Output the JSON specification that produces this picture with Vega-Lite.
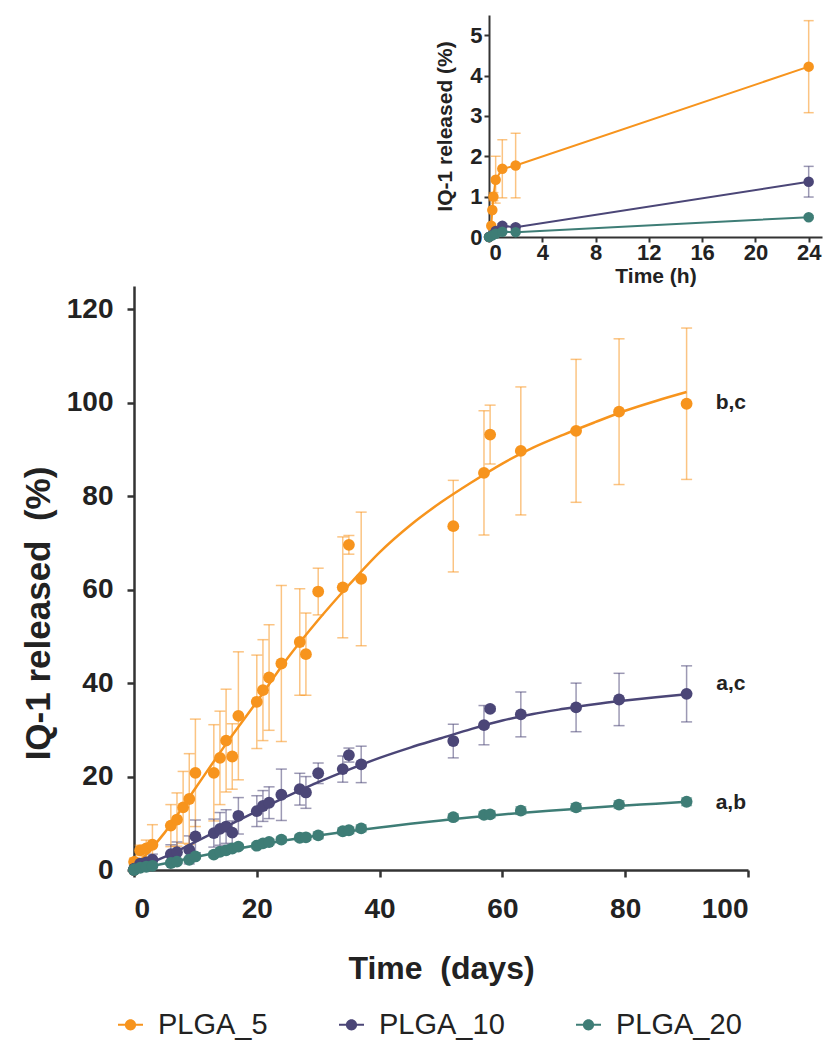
{
  "$schema": "https://vega.github.io/schema/vega-lite/v6.json",
  "background": "white",
  "padding": {"left": 21, "top": 15, "right": 5, "bottom": 5},
  "config": {
    "view": {"stroke": null},
    "font": "Liberation Sans",
    "axis": {"grid": false, "labelFont": "Liberation Sans", "titleFont": "Liberation Sans", "labelColor": "#222222", "titleColor": "#222222", "domainColor": "#333333", "tickColor": "#333333", "labelFontWeight": "bold", "titleFontWeight": "bold"},
    "legend": {
      "orient": "none", "legendX": -18, "legendY": 724, "direction": "horizontal", "columns": 3,
      "symbolType": "M-1,-0.08H1V0.08H-1Z M-0.45,0A0.45,0.45 0 1,1 0.45,0A0.45,0.45 0 1,1 -0.45,0Z",
      "symbolSize": 625, "symbolStrokeWidth": 0, "symbolOpacity": 1,
      "labelFont": "Liberation Sans", "labelFontSize": 29, "labelColor": "#222222", "labelOffset": 13, "columnPadding": 69
    }
  },
  "datasets": {
    "main": [
      {"g": "PLGA_5", "t": 0, "v": 0, "e": 0},
      {"g": "PLGA_5", "t": 0.04, "v": 1.7, "e": 0.6},
      {"g": "PLGA_5", "t": 0.08, "v": 1.75, "e": 0.8},
      {"g": "PLGA_5", "t": 1, "v": 4.2, "e": 1.1},
      {"g": "PLGA_5", "t": 2, "v": 4.6, "e": 1.8},
      {"g": "PLGA_5", "t": 3, "v": 5.4, "e": 4.3},
      {"g": "PLGA_5", "t": 6, "v": 9.5, "e": 4.5},
      {"g": "PLGA_5", "t": 7, "v": 10.8, "e": 5.7},
      {"g": "PLGA_5", "t": 8, "v": 13.4, "e": 7.7},
      {"g": "PLGA_5", "t": 9, "v": 15.2, "e": 9.7},
      {"g": "PLGA_5", "t": 10, "v": 20.8, "e": 11.5},
      {"g": "PLGA_5", "t": 13, "v": 20.8, "e": 10.3},
      {"g": "PLGA_5", "t": 14, "v": 24, "e": 10},
      {"g": "PLGA_5", "t": 15, "v": 27.7, "e": 11},
      {"g": "PLGA_5", "t": 16, "v": 24.3, "e": 7},
      {"g": "PLGA_5", "t": 17, "v": 33, "e": 13.7},
      {"g": "PLGA_5", "t": 20, "v": 36, "e": 10},
      {"g": "PLGA_5", "t": 21, "v": 38.5, "e": 10.8},
      {"g": "PLGA_5", "t": 22, "v": 41.2, "e": 11.3},
      {"g": "PLGA_5", "t": 24, "v": 44.2, "e": 16.7},
      {"g": "PLGA_5", "t": 27, "v": 48.8, "e": 11.4},
      {"g": "PLGA_5", "t": 28, "v": 46.2, "e": 8.8},
      {"g": "PLGA_5", "t": 30, "v": 59.6, "e": 5},
      {"g": "PLGA_5", "t": 34, "v": 60.5, "e": 10.8},
      {"g": "PLGA_5", "t": 35, "v": 69.6, "e": 2},
      {"g": "PLGA_5", "t": 37, "v": 62.3, "e": 14.3},
      {"g": "PLGA_5", "t": 52, "v": 73.6, "e": 9.8},
      {"g": "PLGA_5", "t": 57, "v": 85, "e": 13.3},
      {"g": "PLGA_5", "t": 58, "v": 93.2, "e": 6.3},
      {"g": "PLGA_5", "t": 63, "v": 89.7, "e": 13.7},
      {"g": "PLGA_5", "t": 72, "v": 94, "e": 15.3},
      {"g": "PLGA_5", "t": 79, "v": 98.1, "e": 15.6},
      {"g": "PLGA_5", "t": 90, "v": 99.8, "e": 16.2},
      {"g": "PLGA_10", "t": 0, "v": 0, "e": 0},
      {"g": "PLGA_10", "t": 0.04, "v": 0.28, "e": 0.05},
      {"g": "PLGA_10", "t": 0.08, "v": 0.23, "e": 0.05},
      {"g": "PLGA_10", "t": 1, "v": 1.37, "e": 0.38},
      {"g": "PLGA_10", "t": 2, "v": 1.6, "e": 0.6},
      {"g": "PLGA_10", "t": 3, "v": 2.2, "e": 1.2},
      {"g": "PLGA_10", "t": 6, "v": 3.4, "e": 2},
      {"g": "PLGA_10", "t": 7, "v": 3.8, "e": 2.2},
      {"g": "PLGA_10", "t": 9, "v": 4.3, "e": 3},
      {"g": "PLGA_10", "t": 10, "v": 7.2, "e": 3.5},
      {"g": "PLGA_10", "t": 13, "v": 7.9, "e": 3},
      {"g": "PLGA_10", "t": 14, "v": 8.8, "e": 3.5},
      {"g": "PLGA_10", "t": 15, "v": 9.3, "e": 3.6},
      {"g": "PLGA_10", "t": 16, "v": 8, "e": 2.5},
      {"g": "PLGA_10", "t": 17, "v": 11.6, "e": 3.9},
      {"g": "PLGA_10", "t": 20, "v": 12.6, "e": 3.3},
      {"g": "PLGA_10", "t": 21, "v": 13.7, "e": 3.3},
      {"g": "PLGA_10", "t": 22, "v": 14.4, "e": 3.4},
      {"g": "PLGA_10", "t": 24, "v": 16.1, "e": 5.5},
      {"g": "PLGA_10", "t": 27, "v": 17.3, "e": 3.4},
      {"g": "PLGA_10", "t": 28, "v": 16.6, "e": 3.4},
      {"g": "PLGA_10", "t": 30, "v": 20.7, "e": 2.2},
      {"g": "PLGA_10", "t": 34, "v": 21.6, "e": 2.8},
      {"g": "PLGA_10", "t": 35, "v": 24.6, "e": 1.5},
      {"g": "PLGA_10", "t": 37, "v": 22.6, "e": 3.9},
      {"g": "PLGA_10", "t": 52, "v": 27.6, "e": 3.6},
      {"g": "PLGA_10", "t": 57, "v": 31, "e": 4.2},
      {"g": "PLGA_10", "t": 58, "v": 34.5, "e": 0.5},
      {"g": "PLGA_10", "t": 63, "v": 33.3, "e": 4.8},
      {"g": "PLGA_10", "t": 72, "v": 34.8, "e": 5.2},
      {"g": "PLGA_10", "t": 79, "v": 36.5, "e": 5.6},
      {"g": "PLGA_10", "t": 90, "v": 37.7, "e": 6},
      {"g": "PLGA_20", "t": 0, "v": 0, "e": 0},
      {"g": "PLGA_20", "t": 0.04, "v": 0.14, "e": 0},
      {"g": "PLGA_20", "t": 0.08, "v": 0.13, "e": 0},
      {"g": "PLGA_20", "t": 1, "v": 0.49, "e": 0.05},
      {"g": "PLGA_20", "t": 2, "v": 0.7, "e": 0.2},
      {"g": "PLGA_20", "t": 3, "v": 0.9, "e": 0.3},
      {"g": "PLGA_20", "t": 6, "v": 1.5, "e": 0.4},
      {"g": "PLGA_20", "t": 7, "v": 1.8, "e": 0.4},
      {"g": "PLGA_20", "t": 9, "v": 2.2, "e": 0.5},
      {"g": "PLGA_20", "t": 10, "v": 2.9, "e": 0.5},
      {"g": "PLGA_20", "t": 13, "v": 3.3, "e": 0.5},
      {"g": "PLGA_20", "t": 14, "v": 3.9, "e": 0.5},
      {"g": "PLGA_20", "t": 15, "v": 4.2, "e": 0.5},
      {"g": "PLGA_20", "t": 16, "v": 4.6, "e": 0.5},
      {"g": "PLGA_20", "t": 17, "v": 5, "e": 0.5},
      {"g": "PLGA_20", "t": 20, "v": 5.2, "e": 0.6},
      {"g": "PLGA_20", "t": 21, "v": 5.7, "e": 0.6},
      {"g": "PLGA_20", "t": 22, "v": 6, "e": 0.6},
      {"g": "PLGA_20", "t": 24, "v": 6.5, "e": 0.6},
      {"g": "PLGA_20", "t": 27, "v": 6.9, "e": 0.6},
      {"g": "PLGA_20", "t": 28, "v": 7, "e": 0.6},
      {"g": "PLGA_20", "t": 30, "v": 7.4, "e": 0.7},
      {"g": "PLGA_20", "t": 34, "v": 8.3, "e": 0.7},
      {"g": "PLGA_20", "t": 35, "v": 8.5, "e": 0.7},
      {"g": "PLGA_20", "t": 37, "v": 8.9, "e": 0.7},
      {"g": "PLGA_20", "t": 52, "v": 11.3, "e": 0.7},
      {"g": "PLGA_20", "t": 57, "v": 11.8, "e": 0.7},
      {"g": "PLGA_20", "t": 58, "v": 11.9, "e": 0.7},
      {"g": "PLGA_20", "t": 63, "v": 12.7, "e": 0.8},
      {"g": "PLGA_20", "t": 72, "v": 13.4, "e": 0.8},
      {"g": "PLGA_20", "t": 79, "v": 14, "e": 0.8},
      {"g": "PLGA_20", "t": 90, "v": 14.6, "e": 0.8}
    ],
    "fit": [
      {"g": "PLGA_5", "t": 0, "v": 0.5}, {"g": "PLGA_5", "t": 5, "v": 8}, {"g": "PLGA_5", "t": 10, "v": 17.5},
      {"g": "PLGA_5", "t": 15, "v": 27}, {"g": "PLGA_5", "t": 20, "v": 36}, {"g": "PLGA_5", "t": 25, "v": 45.3},
      {"g": "PLGA_5", "t": 30, "v": 53.5}, {"g": "PLGA_5", "t": 35, "v": 61}, {"g": "PLGA_5", "t": 40, "v": 68},
      {"g": "PLGA_5", "t": 45, "v": 73.8}, {"g": "PLGA_5", "t": 50, "v": 78.7}, {"g": "PLGA_5", "t": 55, "v": 83},
      {"g": "PLGA_5", "t": 60, "v": 87}, {"g": "PLGA_5", "t": 65, "v": 90.4}, {"g": "PLGA_5", "t": 70, "v": 93.2},
      {"g": "PLGA_5", "t": 75, "v": 95.8}, {"g": "PLGA_5", "t": 80, "v": 98.3}, {"g": "PLGA_5", "t": 85, "v": 100.4},
      {"g": "PLGA_5", "t": 90, "v": 102.3},
      {"g": "PLGA_10", "t": 0, "v": 0.2}, {"g": "PLGA_10", "t": 5, "v": 2.8}, {"g": "PLGA_10", "t": 10, "v": 6},
      {"g": "PLGA_10", "t": 15, "v": 9.3}, {"g": "PLGA_10", "t": 20, "v": 12.6}, {"g": "PLGA_10", "t": 25, "v": 15.8},
      {"g": "PLGA_10", "t": 30, "v": 18.8}, {"g": "PLGA_10", "t": 35, "v": 21.5}, {"g": "PLGA_10", "t": 40, "v": 24},
      {"g": "PLGA_10", "t": 45, "v": 26.2}, {"g": "PLGA_10", "t": 50, "v": 28.2}, {"g": "PLGA_10", "t": 55, "v": 30.2},
      {"g": "PLGA_10", "t": 60, "v": 32}, {"g": "PLGA_10", "t": 65, "v": 33.4}, {"g": "PLGA_10", "t": 70, "v": 34.5},
      {"g": "PLGA_10", "t": 75, "v": 35.5}, {"g": "PLGA_10", "t": 80, "v": 36.3}, {"g": "PLGA_10", "t": 85, "v": 37},
      {"g": "PLGA_10", "t": 90, "v": 37.6},
      {"g": "PLGA_20", "t": 0, "v": 0.1}, {"g": "PLGA_20", "t": 5, "v": 1.4}, {"g": "PLGA_20", "t": 10, "v": 2.8},
      {"g": "PLGA_20", "t": 15, "v": 4.1}, {"g": "PLGA_20", "t": 20, "v": 5.3}, {"g": "PLGA_20", "t": 25, "v": 6.4},
      {"g": "PLGA_20", "t": 30, "v": 7.4}, {"g": "PLGA_20", "t": 35, "v": 8.3}, {"g": "PLGA_20", "t": 40, "v": 9.1},
      {"g": "PLGA_20", "t": 45, "v": 9.9}, {"g": "PLGA_20", "t": 50, "v": 10.6}, {"g": "PLGA_20", "t": 55, "v": 11.3},
      {"g": "PLGA_20", "t": 60, "v": 11.9}, {"g": "PLGA_20", "t": 65, "v": 12.4}, {"g": "PLGA_20", "t": 70, "v": 12.9},
      {"g": "PLGA_20", "t": 75, "v": 13.4}, {"g": "PLGA_20", "t": 80, "v": 13.8}, {"g": "PLGA_20", "t": 85, "v": 14.2},
      {"g": "PLGA_20", "t": 90, "v": 14.6}
    ],
    "inset": [
      {"g": "PLGA_5", "h": 0, "v": 0, "e": 0},
      {"g": "PLGA_5", "h": 0.17, "v": 0.28, "e": 0},
      {"g": "PLGA_5", "h": 0.25, "v": 0.67, "e": 0},
      {"g": "PLGA_5", "h": 0.33, "v": 1.0, "e": 0.1},
      {"g": "PLGA_5", "h": 0.5, "v": 1.42, "e": 0.58},
      {"g": "PLGA_5", "h": 1, "v": 1.69, "e": 0.72},
      {"g": "PLGA_5", "h": 2, "v": 1.77, "e": 0.8},
      {"g": "PLGA_5", "h": 24, "v": 4.22, "e": 1.14},
      {"g": "PLGA_10", "h": 0, "v": 0, "e": 0},
      {"g": "PLGA_10", "h": 0.25, "v": 0.05, "e": 0},
      {"g": "PLGA_10", "h": 0.5, "v": 0.15, "e": 0},
      {"g": "PLGA_10", "h": 1, "v": 0.28, "e": 0.05},
      {"g": "PLGA_10", "h": 2, "v": 0.24, "e": 0.06},
      {"g": "PLGA_10", "h": 24, "v": 1.37, "e": 0.38},
      {"g": "PLGA_20", "h": 0, "v": 0, "e": 0},
      {"g": "PLGA_20", "h": 0.25, "v": 0.04, "e": 0},
      {"g": "PLGA_20", "h": 0.5, "v": 0.08, "e": 0},
      {"g": "PLGA_20", "h": 1, "v": 0.13, "e": 0},
      {"g": "PLGA_20", "h": 2, "v": 0.12, "e": 0},
      {"g": "PLGA_20", "h": 24, "v": 0.49, "e": 0.04}
    ],
    "labels": [
      {"t": 97.2, "v": 100, "txt": "b,c"},
      {"t": 97.2, "v": 39.8, "txt": "a,c"},
      {"t": 97.2, "v": 14.3, "txt": "a,b"}
    ]
  },
  "resolve": {"scale": {"color": "independent"}},
  "spacing": 0,
  "vconcat": [
    {
      "spacing": 20,
      "hconcat": [
        {"width": 280, "height": 20, "data": {"values": [{"a": 1}]}, "mark": {"type": "point", "opacity": 0}},
        {
          "width": 333,
          "height": 222,
          "data": {"name": "inset"},
          "encoding": {
            "x": {"field": "h", "type": "quantitative", "scale": {"domain": [0, 25], "nice": false}, "axis": {"values": [0, 4, 8, 12, 16, 20, 24], "title": "Time (h)", "labelFontSize": 22, "titleFontSize": 21, "tickSize": 5, "labelPadding": 0, "titlePadding": 2, "domainWidth": 2, "tickWidth": 2}},
            "y": {"field": "v", "type": "quantitative", "scale": {"domain": [0, 5.5], "nice": false}, "axis": {"values": [0, 1, 2, 3, 4, 5], "title": "IQ-1 released (%)", "labelFontSize": 22, "titleFontSize": 21, "tickSize": 5, "labelPadding": 2, "titlePadding": 14, "domainWidth": 2, "tickWidth": 2}},
            "color": {"field": "g", "type": "nominal", "scale": {"domain": ["PLGA_5", "PLGA_10", "PLGA_20"], "range": ["#F7941D", "#4B4677", "#3E7D76"]}, "legend": null}
          },
          "layer": [
            {
              "transform": [{"filter": "datum.e > 0"}],
              "mark": {"type": "errorbar", "thickness": 1.5, "ticks": {"size": 10, "thickness": 1.5, "opacity": 0.55}, "rule": {"opacity": 0.55}},
              "encoding": {"yError": {"field": "e"}}
            },
            {"mark": {"type": "line", "strokeWidth": 2}},
            {"mark": {"type": "point", "filled": true, "size": 110, "opacity": 1}}
          ]
        }
      ]
    },
    {
      "width": 614,
      "height": 584,
      "encoding": {
        "x": {"field": "t", "type": "quantitative", "scale": {"domain": [0, 100], "nice": false}, "axis": {"values": [0, 20, 40, 60, 80, 100], "title": "Time\u00a0 (days)", "labelFontSize": 28, "titleFontSize": 32, "tickSize": 7, "labelPadding": 18, "titlePadding": 30, "domainWidth": 2.5, "tickWidth": 2.5}},
        "y": {"field": "v", "type": "quantitative", "scale": {"domain": [0, 125], "nice": false}, "axis": {"values": [0, 20, 40, 60, 80, 100, 120], "title": "IQ-1 released\u00a0 (%)", "labelFontSize": 28, "titleFontSize": 35, "tickSize": 7, "labelPadding": 14, "titlePadding": 10, "titleY": 327, "domainWidth": 2.5, "tickWidth": 2.5}}
      },
      "layer": [
        {
          "data": {"name": "main"},
          "transform": [{"filter": "datum.e > 0"}],
          "mark": {"type": "errorbar", "thickness": 1.5, "ticks": {"size": 11, "thickness": 1.5, "opacity": 0.55}, "rule": {"opacity": 0.55}},
          "encoding": {
            "yError": {"field": "e"},
            "color": {"field": "g", "type": "nominal", "title": null, "scale": {"domain": ["PLGA_5", "PLGA_10", "PLGA_20"], "range": ["#F7941D", "#4B4677", "#3E7D76"]}, "legend": {"encode": {"symbols": {"update": {"opacity": {"value": 1}}}}}}
          }
        },
        {
          "data": {"name": "fit"},
          "mark": {"type": "line", "strokeWidth": 2.5, "interpolate": "monotone"},
          "encoding": {
            "color": {"field": "g", "type": "nominal", "title": null, "scale": {"domain": ["PLGA_5", "PLGA_10", "PLGA_20"], "range": ["#F7941D", "#4B4677", "#3E7D76"]}, "legend": {"encode": {"symbols": {"update": {"opacity": {"value": 1}}}}}}
          }
        },
        {
          "data": {"name": "main"},
          "mark": {"type": "point", "filled": true, "size": 140, "opacity": 1},
          "encoding": {
            "color": {"field": "g", "type": "nominal", "title": null, "scale": {"domain": ["PLGA_5", "PLGA_10", "PLGA_20"], "range": ["#F7941D", "#4B4677", "#3E7D76"]}, "legend": {"encode": {"symbols": {"update": {"opacity": {"value": 1}}}}}}
          }
        },
        {
          "data": {"name": "labels"},
          "mark": {"type": "text", "fontWeight": "bold", "fontSize": 21, "color": "#222222", "font": "Liberation Sans"},
          "encoding": {
            "text": {"field": "txt"}
          }
        }
      ]
    }
  ]
}
